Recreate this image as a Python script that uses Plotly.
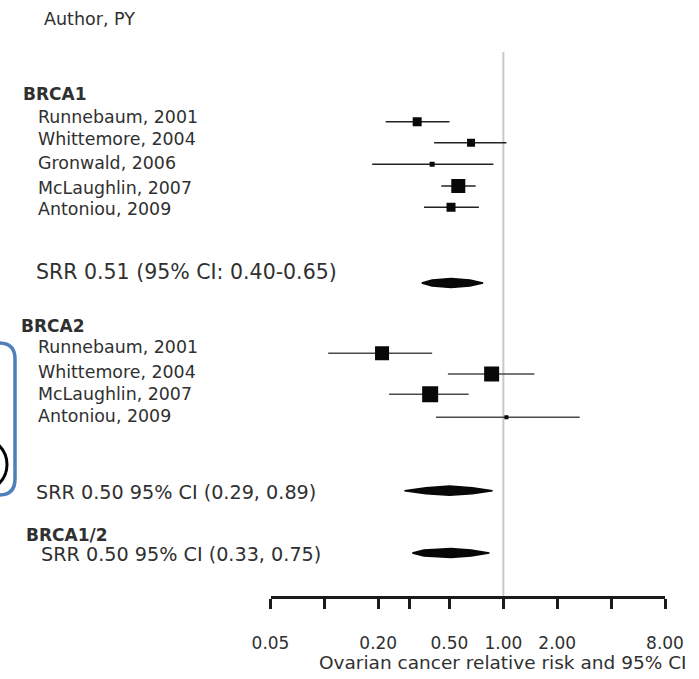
import math
import plotly.graph_objects as go

# ---------------- data ----------------
brca1_studies = ["Runnebaum, 2001", "Whittemore, 2004", "Gronwald, 2006", "McLaughlin, 2007", "Antoniou, 2009"]
brca1_rr = [0.33, 0.66, 0.40, 0.56, 0.51]
brca1_lo = [0.22, 0.41, 0.185, 0.45, 0.36]
brca1_hi = [0.50, 1.04, 0.88, 0.70, 0.73]
brca1_weight = [9, 8, 5, 14, 9]

brca2_studies = ["Runnebaum, 2001", "Whittemore, 2004", "McLaughlin, 2007", "Antoniou, 2009"]
brca2_rr = [0.21, 0.86, 0.39, 1.04]
brca2_lo = [0.105, 0.49, 0.23, 0.42]
brca2_hi = [0.40, 1.49, 0.64, 2.67]
brca2_weight = [14, 15, 16, 4]

# summary diamonds: outer-lo, inner-lo, estimate, inner-hi, outer-hi
summary_names = ["BRCA1", "BRCA2", "BRCA1/2"]
summary_est = [0.51, 0.50, 0.51]
summary_lo_out = [0.35, 0.28, 0.31]
summary_lo_in = [0.40, 0.37, 0.36]
summary_hi_in = [0.65, 0.67, 0.66]
summary_hi_out = [0.77, 0.87, 0.835]
summary_text = ["SRR 0.51 (95% CI: 0.40-0.65)", "SRR 0.50 95% CI (0.29, 0.89)", "SRR 0.50 95% CI (0.33, 0.75)"]

tick_vals = [0.05, 0.10, 0.20, 0.30, 0.50, 1.00, 2.00, 4.00, 8.00]
tick_text = ["0.05", "", "0.20", "", "0.50", "1.00", "2.00", "", "8.00"]
x_title = "Ovarian cancer relative risk and 95% CI"

# ---------------- layout helpers ----------------
W, H = 699, 679
FONT = "DejaVu Sans"
TXT = "#303030"

brca1_rows = [121.7, 142.7, 164.3, 186.0, 207.3]
brca2_rows = [353.3, 374.0, 394.3, 417.3]
summary_rows = [283.0, 490.7, 553.0]


def px(x):
    return x / W


def py(y):
    return 1 - y / H


fig = go.Figure()

# study markers with CIs
for rr, lo, hi, rows, w, lc in [
    (brca1_rr, brca1_lo, brca1_hi, brca1_rows, brca1_weight, "#222222"),
    (brca2_rr, brca2_lo, brca2_hi, brca2_rows, brca2_weight, "#4a4a4a"),
]:
    fig.add_trace(go.Scatter(
        x=rr, y=rows, mode="markers",
        marker=dict(symbol="square", size=w, color="#080808", opacity=1, line=dict(width=0)),
        error_x=dict(type="data", symmetric=False,
                     array=[h - r for h, r in zip(hi, rr)],
                     arrayminus=[r - l for r, l in zip(rr, lo)],
                     width=0, thickness=1.6, color=lc),
        showlegend=False, hoverinfo="skip",
    ))

# summary diamonds
for i in range(len(summary_est)):
    r = summary_rows[i]
    xs = [summary_lo_out[i], summary_lo_in[i], summary_est[i], summary_hi_in[i],
          summary_hi_out[i], summary_hi_in[i], summary_est[i], summary_lo_in[i], summary_lo_out[i]]
    ys = [r, r - 3.0, r - 4.6, r - 3.0, r, r + 3.0, r + 4.6, r + 3.0, r]
    fig.add_trace(go.Scatter(
        x=xs, y=ys, mode="lines", fill="toself", fillcolor="#080808",
        line=dict(color="#080808", width=1.5), showlegend=False, hoverinfo="skip",
    ))

# reference line at 1
fig.add_shape(type="line", x0=1, x1=1, xref="x", y0=52, y1=597, yref="y",
              line=dict(color="#c9c9c9", width=2), layer="below")

annotations = []


def label(text, x, y, size, bold=False, anchor="left"):
    annotations.append(dict(
        text=f"<b>{text}</b>" if bold else text, x=px(x), y=py(y), xref="paper", yref="paper",
        xanchor=anchor, yanchor="middle", showarrow=False,
        font=dict(family=FONT, size=size, color=TXT),
    ))


label("Author, PY", 42, 19, 17.5)
label("BRCA1", 21, 94, 17, bold=True)
for s, y in zip(brca1_studies, [116.5, 139, 163, 187.5, 209]):
    label(s, 36, y, 17.4)
label(summary_text[0], 34, 272, 20.5)
label("BRCA2", 19, 326, 17, bold=True)
for s, y in zip(brca2_studies, [346.5, 371.5, 393.5, 416]):
    label(s, 36, y, 17.4)
label(summary_text[1], 34, 492.5, 19.2)
label("BRCA1/2", 24, 535, 17, bold=True)
label(summary_text[2], 39, 554, 19.2)
label(x_title, 502.5, 662, 18.5, anchor="center")

# decorative cropped callout at left edge
r = 16
x0, x1, y0, y1 = -30, 15, 343, 495
path = (f"M {px(x0)},{py(y0)} L {px(x1 - r)},{py(y0)} Q {px(x1)},{py(y0)} {px(x1)},{py(y0 + r)} "
        f"L {px(x1)},{py(y1 - r)} Q {px(x1)},{py(y1)} {px(x1 - r)},{py(y1)} L {px(x0)},{py(y1)}")
fig.add_shape(type="path", path=path, xref="paper", yref="paper",
              line=dict(color="#4f7fbb", width=3.5))
fig.add_shape(type="circle", x0=px(-45), x1=px(7), y0=py(438), y1=py(491), xref="paper", yref="paper",
              line=dict(color="#000000", width=3))

fig.update_layout(
    width=W, height=H, margin=dict(l=0, r=0, t=0, b=0, autoexpand=False),
    paper_bgcolor="white", plot_bgcolor="white",
    annotations=annotations,
    xaxis=dict(
        type="log", range=[math.log10(0.05), math.log10(8)],
        domain=[px(270.5), px(665)], anchor="free", position=py(597),
        automargin=False,
        tickvals=tick_vals, ticktext=tick_text,
        ticks="outside", ticklen=10, tickwidth=2.5, tickcolor="#1a1a1a",
        showline=True, linewidth=2.5, linecolor="#1a1a1a",
        showgrid=False, zeroline=False,
        tickfont=dict(family=FONT, size=17, color=TXT),
        ticklabelstandoff=20,
    ),
    yaxis=dict(range=[H, 0], domain=[0, 1], visible=False, showgrid=False, zeroline=False,
               automargin=False),
)

fig.write_html("out.html")
